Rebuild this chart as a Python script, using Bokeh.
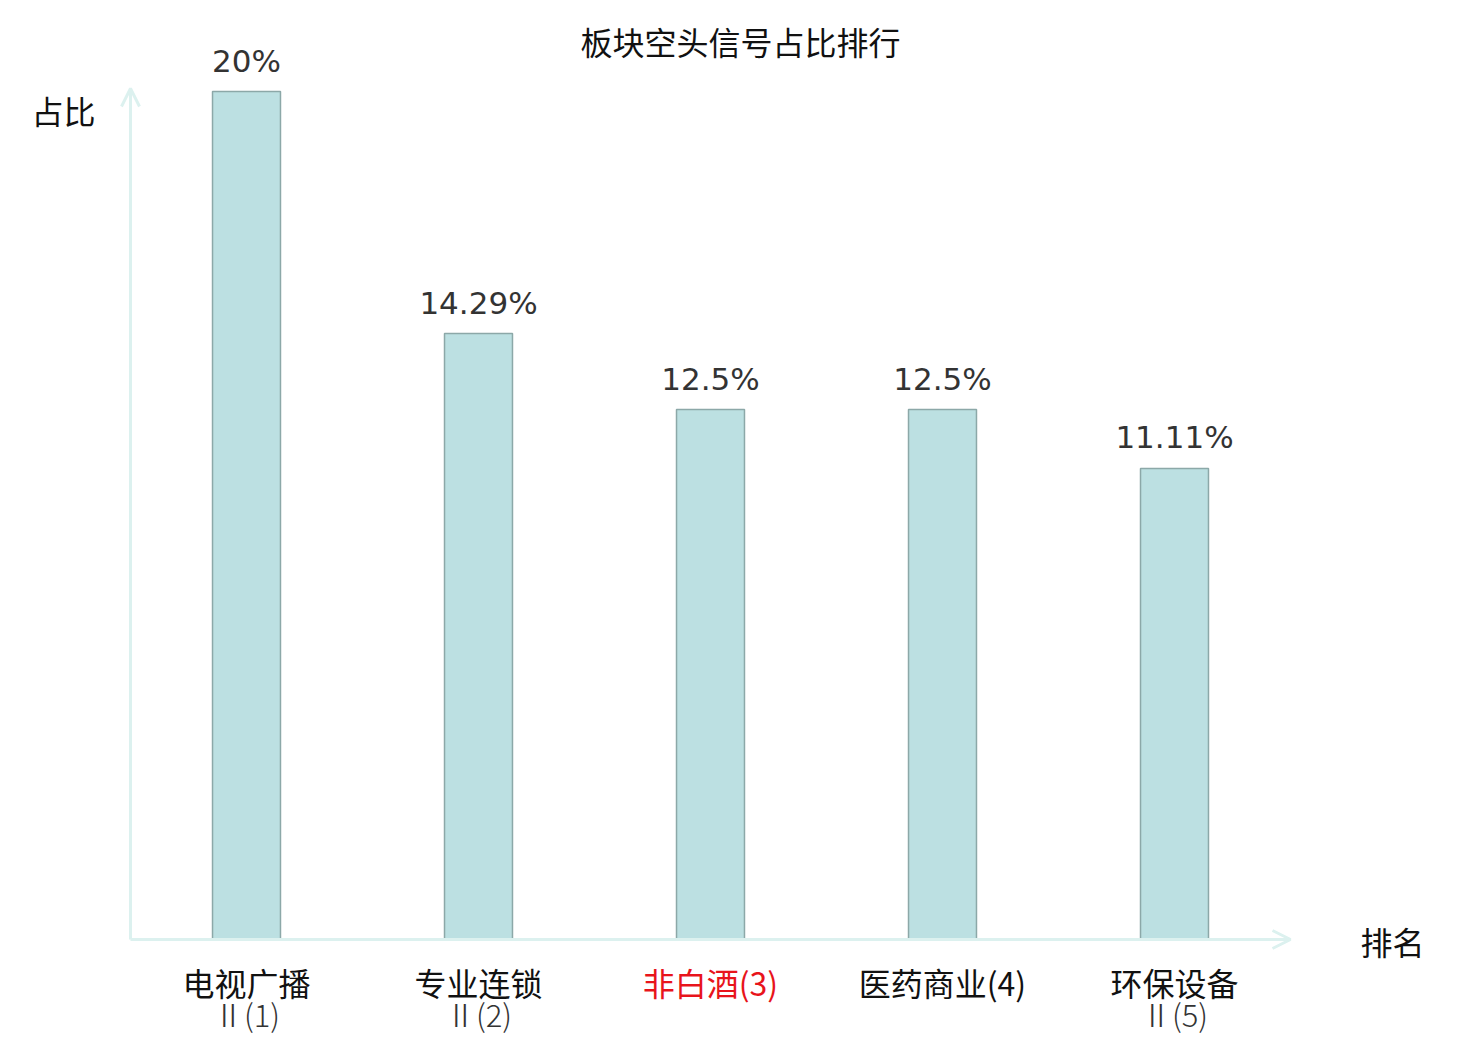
from bokeh.plotting import figure
from bokeh.models import Range1d, ColumnDataSource, LabelSet, Label, Arrow, OpenHead
from bokeh.core.properties import value
from bokeh.embed import file_html
from bokeh.resources import INLINE

categories = ["电视广播", "专业连锁", "非白酒", "医药商业", "环保设备"]
suffixes = ["Ⅱ(1)", "Ⅱ(2)", "(3)", "(4)", "Ⅱ(5)"]
values = [20.0, 14.29, 12.5, 12.5, 11.11]
value_labels = ["20%", "14.29%", "12.5%", "12.5%", "11.11%"]
highlight = [False, False, True, False, False]

CJK = "Noto Sans CJK SC"
CJK_LIGHT = "'Noto Sans CJK SC Light', 'Noto Sans CJK SC DemiLight', 'Noto Sans CJK SC'"

W, H = 1470, 1038
# plot geometry (pixels): axis origin and scale
X0, Y0 = 130, 939
XS, YS = 232.0, 42.4

xs = [i + 0.5 for i in range(len(categories))]
line1, line2, colors = [], [], []
for c, s, h in zip(categories, suffixes, highlight):
    if s.startswith("Ⅱ"):
        line1.append(c)
        line2.append(s)
    else:
        line1.append(c + s)
        line2.append("")
    colors.append("#e8141b" if h else "#111111")

src = ColumnDataSource(dict(x=xs, top=values, lab=value_labels,
                            l1=line1, l2=line2, col=colors,
                            zero=[0] * len(xs)))

p = figure(width=W, height=H, output_backend="svg", toolbar_location=None,
           x_range=Range1d(-X0 / XS, (W - X0) / XS),
           y_range=Range1d((Y0 - H) / YS, Y0 / YS),
           min_border_left=0, min_border_right=0,
           min_border_top=0, min_border_bottom=0)
p.xaxis.visible = False
p.yaxis.visible = False
p.xgrid.visible = False
p.ygrid.visible = False
p.outline_line_color = None

p.vbar(x="x", top="top", width=0.293, bottom=0, source=src,
       fill_color="#bce0e2", line_color="#8ca8a8", line_width=1.5)

axis_col = "#dcf1ef"
x_end = len(categories)
y_end = 20.07
p.add_layout(Arrow(x_start=0, y_start=0, x_end=x_end, y_end=0,
                   line_color=axis_col, line_width=3,
                   end=OpenHead(size=18, line_color=axis_col, line_width=3)))
p.add_layout(Arrow(x_start=0, y_start=0, x_end=0, y_end=y_end,
                   line_color=axis_col, line_width=3,
                   end=OpenHead(size=18, line_color=axis_col, line_width=3)))

p.add_layout(LabelSet(x="x", y="top", text="lab", source=src, y_offset=13,
                      text_align="center", text_baseline="bottom",
                      text_font=value("DejaVu Sans"), text_font_size="31px",
                      text_color="#333333"))
p.add_layout(LabelSet(x="x", y="zero", text="l1", source=src, y_offset=-42,
                      text_align="center", text_baseline="middle",
                      text_font=value(CJK), text_font_size="32px",
                      text_color="col"))
p.add_layout(LabelSet(x="x", y="zero", text="l2", source=src, y_offset=-74,
                      text_align="center", text_baseline="middle",
                      text_font=value(CJK_LIGHT), text_font_size="31px",
                      text_color="#333333"))

p.add_layout(Label(x=740, y=H - 40, x_units="screen", y_units="screen",
                   text="板块空头信号占比排行", text_align="center",
                   text_baseline="middle", text_font=CJK,
                   text_font_size="32px", text_color="#111111"))
p.add_layout(Label(x=63, y=H - 109, x_units="screen", y_units="screen",
                   text="占比", text_align="center", text_baseline="middle",
                   text_font=CJK, text_font_size="32px",
                   text_color="#111111"))
p.add_layout(Label(x=1392, y=H - 940, x_units="screen", y_units="screen",
                   text="排名", text_align="center", text_baseline="middle",
                   text_font=CJK, text_font_size="32px",
                   text_color="#111111"))

open("out.html", "w").write(file_html(p, INLINE))
